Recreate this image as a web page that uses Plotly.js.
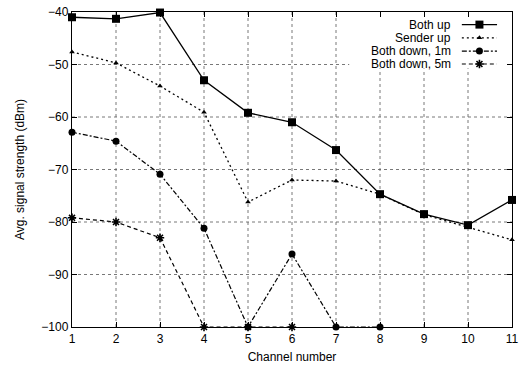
<!DOCTYPE html>
<html><head><meta charset="utf-8">
<script src="https://cdn.plot.ly/plotly-3.0.1.min.js"></script>
<style>html,body{margin:0;padding:0;background:#fff}#chart{width:520px;height:367px}</style>
</head><body><div id="chart"></div>
<script>
const channels = [1,2,3,4,5,6,7,8,9,10,11];
const bothUp = [-41, -41.3, -40.1, -53, -59.2, -61, -66.3, -74.7, -78.5, -80.6, -75.8];
const senderUp = [-47.6, -49.7, -54.1, -59.1, -76.2, -72, -72.2, -74.7, -78.6, -81, -83.4];
const bothDown1mX = [1,2,3,4,5,6,7,8];
const bothDown1m = [-62.9, -64.6, -70.9, -81.2, -100, -86.1, -100, -100];
const bothDown5mX = [1,2,3,4,5,6];
const bothDown5m = [-79.2, -80, -83, -100, -100, -100];
const seriesNames = ['Both up','Sender up','Both down, 1m','Both down, 5m'];
const yTicks = [-40,-50,-60,-70,-80,-90,-100];

const styles = [
  {dash:'solid', symbol:'square', size:8, lw:1.3},
  {dash:'2px,3px', symbol:'triangle-up', size:5, lw:1.3},
  {dash:'5px,2px,2px,2px', symbol:'circle', size:7, lw:1.2},
  {dash:'4px,3px', symbol:'asterisk', size:7, lw:1.2}
];
const xs = [channels, channels, bothDown1mX, bothDown5mX];
const ys = [bothUp, senderUp, bothDown1m, bothDown5m];

const traces = [];
for (let i=0;i<4;i++){
  const s = styles[i];
  traces.push({
    x: xs[i], y: ys[i], type:'scatter', mode:'lines+markers', name: seriesNames[i],
    showlegend:false, cliponaxis:false,
    line:{color:'#000', width:s.lw, dash:s.dash},
    marker:{symbol:s.symbol, size:s.size, color:'#000', line:{color:'#000', width: s.symbol==='asterisk'?1.6:0}}
  });
}
// manual gnuplot-style legend (text right, sample left->right)
const legRows = [0.96, 0.918, 0.876, 0.835];
const annotations = [];
for (let i=0;i<4;i++){
  const s = styles[i];
  traces.push({
    x:[0.886,0.966], y:[legRows[i],legRows[i]], xaxis:'x2', yaxis:'y2', type:'scatter', mode:'lines',
    showlegend:false, hoverinfo:'skip', line:{color:'#000', width:s.lw, dash:s.dash}
  });
  traces.push({
    x:[0.926], y:[legRows[i]], xaxis:'x2', yaxis:'y2', type:'scatter', mode:'markers',
    showlegend:false, hoverinfo:'skip',
    marker:{symbol:s.symbol, size:s.size, color:'#000', line:{color:'#000', width: s.symbol==='asterisk'?1.6:0}}
  });
  annotations.push({xref:'paper', yref:'paper', x:0.865, y:legRows[i], xanchor:'right', yanchor:'middle',
    text: seriesNames[i], showarrow:false, font:{family:'Liberation Sans, Arial, sans-serif', size:12, color:'#000'}});
}

// gridlines drawn as shapes so the legend box can hide them
const shapes = [];
const gridStyle = {color:'#555', width:0.8, dash:'dot'};
channels.slice(1,-1).forEach(c => shapes.push({type:'line', xref:'x', yref:'y', x0:c, x1:c, y0:-100, y1:-40, layer:'below', line:gridStyle}));
yTicks.slice(1,-1).forEach(v => shapes.push({type:'line', xref:'x', yref:'y', x0:1, x1:11, y0:v, y1:v, layer:'below', line:gridStyle}));
shapes.push({type:'rect', xref:'x', yref:'y', x0:7.3, x1:11, y0:-50.7, y1:-40, layer:'below', fillcolor:'#fff', line:{width:0}});

const layout = {
  width:520, height:367,
  margin:{l:72, r:8, t:12, b:40},
  paper_bgcolor:'#fff', plot_bgcolor:'#fff',
  showlegend:false,
  font:{family:'Liberation Sans, Arial, sans-serif', size:12, color:'#000'},
  xaxis:{range:[1,11], tickvals:channels, ticks:'inside', ticklen:5, tickcolor:'#000', mirror:'ticks',
    showline:true, linecolor:'#000', linewidth:1.2, zeroline:false, showgrid:false,
    tickfont:{size:12}, title:{text:'Channel number', font:{size:12}, standoff:8}},
  yaxis:{range:[-100,-40], tickvals:yTicks, ticks:'inside', ticklen:5, tickcolor:'#000', mirror:'ticks',
    showline:true, linecolor:'#000', linewidth:1.2, zeroline:false, showgrid:false,
    tickfont:{size:12}, title:{text:'Avg. signal strength (dBm)', font:{size:12}, standoff:14}},
  xaxis2:{range:[0,1], overlaying:'x', visible:false, fixedrange:true},
  yaxis2:{range:[0,1], overlaying:'y', visible:false, fixedrange:true},
  shapes: shapes,
  annotations: annotations
};
Plotly.newPlot('chart', traces, layout, {displayModeBar:false, staticPlot:true});
</script></body></html>
